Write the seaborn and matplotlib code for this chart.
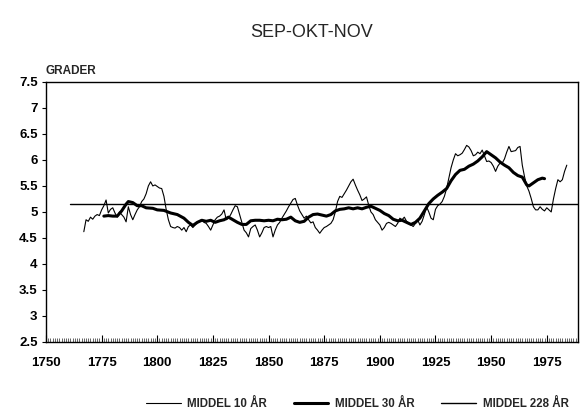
import numpy as np
import pandas as pd
import matplotlib
matplotlib.use("Agg")
import matplotlib.pyplot as plt
import seaborn as sns
from matplotlib.ticker import MultipleLocator

# 10-year running mean
years_10 = list(range(1767, 1985))
mean_10 = [
    4.62, 4.85, 4.82, 4.90, 4.86, 4.92, 4.95, 4.93, 5.04, 5.12,  # 1767-1776
    5.23, 4.98, 5.05, 5.08, 4.98, 4.90, 5.00, 4.95, 4.90, 4.81,  # 1777-1786
    5.10, 4.95, 4.85, 4.95, 5.04, 5.10, 5.20, 5.25, 5.35, 5.50,  # 1787-1796
    5.58, 5.50, 5.52, 5.49, 5.46, 5.45, 5.30, 5.05, 4.85, 4.72,  # 1797-1806
    4.70, 4.69, 4.72, 4.70, 4.65, 4.70, 4.62, 4.72, 4.75, 4.70,  # 1807-1816
    4.75, 4.80, 4.82, 4.85, 4.80, 4.78, 4.72, 4.65, 4.75, 4.85,  # 1817-1826
    4.90, 4.92, 4.96, 5.04, 4.85, 4.88, 4.95, 5.04, 5.12, 5.10,  # 1827-1836
    4.95, 4.80, 4.65, 4.60, 4.52, 4.68, 4.72, 4.75, 4.65, 4.52,  # 1837-1846
    4.60, 4.70, 4.72, 4.70, 4.72, 4.52, 4.65, 4.75, 4.80, 4.88,  # 1847-1856
    4.95, 5.02, 5.10, 5.17, 5.24, 5.26, 5.13, 5.02, 4.95, 4.88,  # 1857-1866
    4.92, 4.85, 4.79, 4.81, 4.70, 4.65, 4.59, 4.65, 4.70, 4.72,  # 1867-1876
    4.75, 4.78, 4.85, 5.00, 5.20, 5.30, 5.28, 5.35, 5.42, 5.50,  # 1877-1886
    5.58, 5.63, 5.52, 5.42, 5.33, 5.22, 5.25, 5.29, 5.13, 5.00,  # 1887-1896
    4.95, 4.85, 4.80, 4.75, 4.65, 4.70, 4.78, 4.80, 4.78, 4.75,  # 1897-1906
    4.72, 4.78, 4.88, 4.85, 4.90, 4.82, 4.78, 4.75, 4.72, 4.78,  # 1907-1916
    4.85, 4.75, 4.82, 4.95, 5.10, 5.00, 4.88, 4.85, 5.05, 5.12,  # 1917-1926
    5.15, 5.20, 5.30, 5.45, 5.65, 5.85, 6.00, 6.12, 6.08, 6.10,  # 1927-1936
    6.13, 6.20, 6.28, 6.25, 6.18, 6.08, 6.10, 6.15, 6.12, 6.19,  # 1937-1946
    6.08, 5.97, 5.98, 5.95, 5.88, 5.78, 5.88, 5.94, 5.94, 6.02,  # 1947-1956
    6.15, 6.26, 6.16, 6.17, 6.18, 6.24, 6.26, 5.90, 5.68, 5.50,  # 1957-1966
    5.40, 5.26, 5.10, 5.04, 5.04, 5.10, 5.05, 5.02, 5.08, 5.04,  # 1967-1976
    5.00, 5.25, 5.45, 5.62, 5.58, 5.62, 5.78, 5.90,              # 1977-1984
]

# 30-year running mean
years_30 = [1776, 1778, 1780, 1782, 1784, 1786, 1787, 1789, 1791, 1793,
            1795, 1798, 1800, 1803, 1806, 1809, 1812, 1814, 1816, 1818,
            1820, 1822, 1824, 1826, 1828, 1830, 1832, 1834, 1836, 1838,
            1840, 1842, 1844, 1846, 1848, 1850, 1852, 1854, 1856, 1858,
            1860, 1862, 1864, 1866, 1868, 1870, 1872, 1874, 1876, 1878,
            1880, 1882, 1884, 1886, 1888, 1890, 1892, 1894, 1896, 1898,
            1900, 1902, 1904, 1906, 1908, 1910, 1912, 1914, 1916, 1918,
            1920, 1922, 1924, 1926, 1928, 1930, 1932, 1934, 1936, 1938,
            1940, 1942, 1944, 1946, 1948, 1950, 1952, 1954, 1956, 1958,
            1960, 1962, 1964, 1966, 1967, 1969, 1971, 1973, 1974]
mean_30 = [4.92, 4.93, 4.92, 4.92, 5.02, 5.15, 5.20, 5.18, 5.12, 5.12,
           5.08, 5.07, 5.04, 5.03, 4.98, 4.95, 4.88, 4.80, 4.74, 4.80,
           4.84, 4.82, 4.84, 4.80, 4.83, 4.85, 4.90, 4.85, 4.80, 4.76,
           4.76, 4.83, 4.84, 4.84, 4.83, 4.84, 4.83, 4.86, 4.85, 4.86,
           4.90, 4.83, 4.80, 4.82, 4.90, 4.95, 4.96, 4.94, 4.92, 4.95,
           5.02, 5.05, 5.06, 5.08, 5.06, 5.08, 5.06, 5.09, 5.11, 5.07,
           5.03, 4.97, 4.93, 4.86, 4.83, 4.84, 4.80, 4.76, 4.80, 4.88,
           5.02, 5.16, 5.25, 5.32, 5.38, 5.45, 5.60, 5.72, 5.80, 5.82,
           5.88, 5.92, 5.98, 6.06, 6.16, 6.10, 6.04, 5.96, 5.90, 5.85,
           5.76, 5.70, 5.67, 5.52, 5.50, 5.56, 5.62, 5.65, 5.64]

# 228-year mean (1761-1988)
years_228 = [1761, 1989]
mean_228 = [5.16, 5.16]

x_ticks = [1750, 1775, 1800, 1825, 1850, 1875, 1900, 1925, 1950, 1975]
y_ticks = [2.5, 3, 3.5, 4, 4.5, 5, 5.5, 6, 6.5, 7, 7.5]
y_labels = ["2.5", "3", "3.5", "4", "4.5", "5", "5.5", "6", "6.5", "7", "7.5"]

sns.set_theme(style="white")
plt.rcParams["font.family"] = ["Liberation Sans", "DejaVu Sans"]

df10 = pd.DataFrame({"year": years_10, "value": mean_10})
df30 = pd.DataFrame({"year": years_30, "value": mean_30})
df228 = pd.DataFrame({"year": years_228, "value": mean_228})

fig = plt.figure(figsize=(5.82, 4.16), dpi=100)
ax = fig.add_axes([0.079, 0.178, 0.914, 0.625])

sns.lineplot(data=df10, x="year", y="value", ax=ax, color="black", linewidth=0.8,
             label="MIDDEL 10 ÅR")
sns.lineplot(data=df30, x="year", y="value", ax=ax, color="black", linewidth=2.2,
             label="MIDDEL 30 ÅR")
sns.lineplot(data=df228, x="year", y="value", ax=ax, color="black", linewidth=1.0,
             label="MIDDEL 228 ÅR")

ax.set_xlim(1750, 1989)
ax.set_ylim(2.5, 7.5)
ax.set_xticks(x_ticks)
ax.set_xticklabels([str(t) for t in x_ticks], fontweight="bold", fontsize=9.5)
ax.set_yticks(y_ticks)
ax.set_yticklabels(y_labels, fontweight="bold", fontsize=9.5)
ax.xaxis.set_minor_locator(MultipleLocator(1))
ax.tick_params(axis="x", which="major", direction="in", length=5, width=0.8,
               bottom=True, pad=11, colors="black")
ax.tick_params(axis="x", which="minor", direction="in", length=3, width=0.5,
               bottom=True)
ax.tick_params(axis="y", which="major", direction="out", length=3, width=0.8,
               left=True, pad=3, colors="black")
ax.set_xlabel("")
ax.set_ylabel("")
for s in ax.spines.values():
    s.set_color("black")
    s.set_linewidth(1.0)

ax.text(0.0, 1.02, "GRADER", transform=ax.transAxes, fontsize=8.5,
        fontweight="bold", ha="left", va="bottom")
fig.text(0.535, 0.923, "SEP-OKT-NOV", fontsize=13, ha="center", va="center")

ax.get_legend().remove()
handles, labels = ax.get_legend_handles_labels()
fig.legend(handles, labels, loc="center", bbox_to_anchor=(0.614, 0.028),
           ncol=3, frameon=False, handlelength=3.0, handletextpad=0.6,
           columnspacing=2.3, prop={"weight": "bold", "size": 8.3})

fig.savefig("out.png", dpi=100)
